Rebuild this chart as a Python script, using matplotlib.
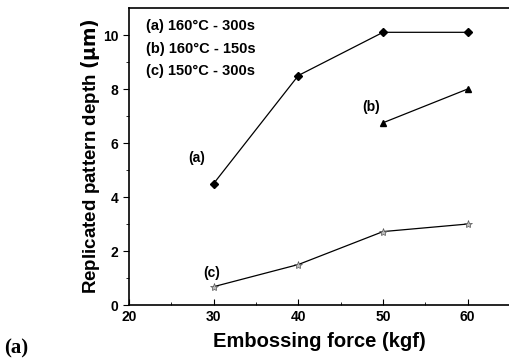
import matplotlib
matplotlib.use("Agg")
import matplotlib.pyplot as plt

# ----- data -----
force = [30, 40, 50, 60]
depth_a = [4.5, 8.5, 10.1, 10.1]
force_b = [50, 60]
depth_b = [6.75, 8.0]
depth_c = [0.68, 1.5, 2.72, 3.0]

legend_lines = ["(a) 160°C - 300s",
                "(b) 160°C - 150s",
                "(c) 150°C - 300s"]

plt.rcParams['font.family'] = ['Liberation Sans', 'DejaVu Sans']
plt.rcParams['font.weight'] = 'bold'
plt.rcParams['mathtext.default'] = 'bf'

fig = plt.figure(figsize=(5.1, 3.64), dpi=100)
ax = fig.add_axes([0.253, 0.162, 0.747, 0.816])

ax.plot(force, depth_a, color='black', lw=0.9, marker='D', ms=4.5)
ax.plot(force_b, depth_b, color='black', lw=0.9, marker='^', ms=5)
ax.plot(force, depth_c, color='black', lw=0.9, marker='*', ms=6,
        mfc='#bbbbbb', mec='#555555', mew=0.5)

ax.set_xlim(20, 65)
ax.set_ylim(0, 11)
ax.set_xticks([20, 30, 40, 50, 60])
ax.set_xticks([25, 35, 45, 55], minor=True)
ax.set_yticks([0, 2, 4, 6, 8, 10])
ax.set_yticks([1, 3, 5, 7, 9], minor=True)
ax.tick_params(axis='x', direction='in', labelsize=10, length=4)
ax.tick_params(axis='x', which='minor', direction='in', length=2)
ax.tick_params(axis='y', direction='out', labelsize=10, length=4)
ax.tick_params(axis='y', which='minor', direction='out', length=2)
ax.spines['right'].set_visible(False)
for s in ax.spines.values():
    s.set_linewidth(1.2)

ax.set_xlabel("Embossing force (kgf)", fontsize=14.5, fontweight='bold', labelpad=6)
ax.set_ylabel("Replicated pattern depth $\\left(\\mu\\mathrm{m}\\right)$",
              fontsize=13.5, fontweight='bold', labelpad=1)

for i, t in enumerate(legend_lines):
    ax.text(22.0, 10.35 - i * 0.85, t, fontsize=10.5, fontweight='bold', va='center')

ax.text(28.0, 5.3, "(a)", fontsize=10, fontweight='bold', ha='center')
ax.text(48.6, 7.2, "(b)", fontsize=10, fontweight='bold', ha='center')
ax.text(29.8, 1.05, "(c)", fontsize=10, fontweight='bold', ha='center')

fig.text(0.008, 0.03, "(a)", fontsize=15, fontweight='bold',
         family=['Liberation Serif', 'DejaVu Serif'])

fig.savefig("out.png", dpi=100)
